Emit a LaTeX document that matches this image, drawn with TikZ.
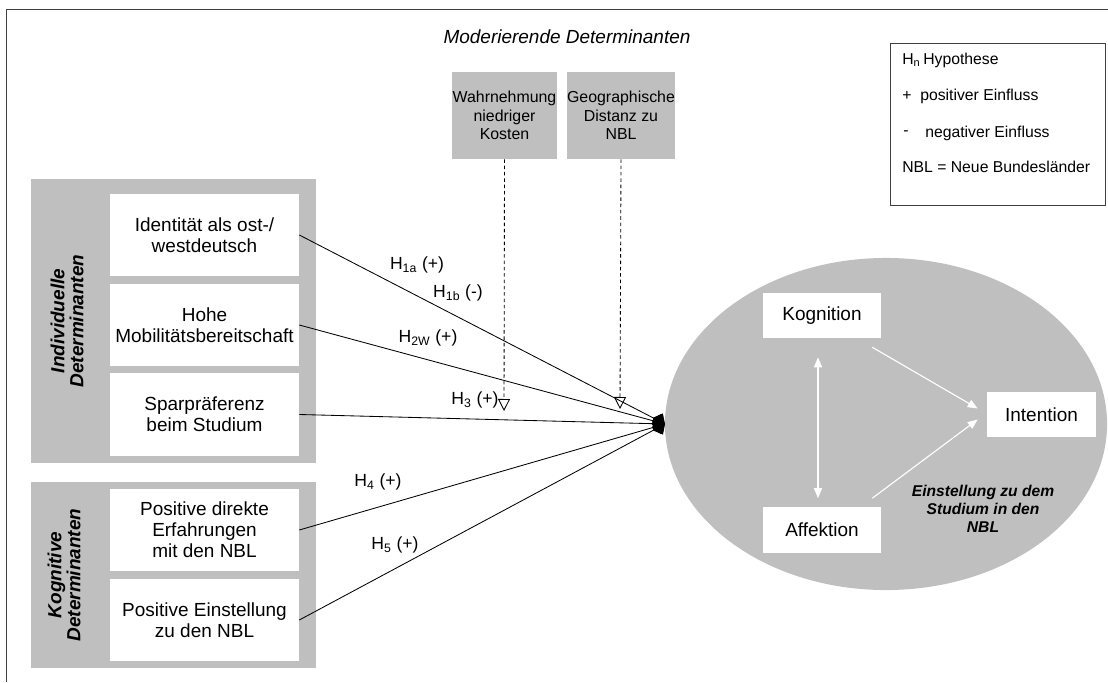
\documentclass[tikz,border=0pt]{standalone}
\usepackage{fontspec}
\setmainfont{Liberation Sans}
\usepackage{tikz}
\usetikzlibrary{positioning,arrows.meta,calc}
\definecolor{boxgray}{HTML}{BFBFBF}
\definecolor{framegray}{HTML}{404040}
\newcommand{\hyp}[2]{H\textsubscript{#1} (#2)}

\begin{document}
\begin{tikzpicture}[x=0.025cm, y=-0.025cm,
    grp/.style={fill=boxgray, inner sep=0pt},
    det/.style={fill=white, minimum width=4.725cm, minimum height=2.05cm,
                inner sep=0pt, align=center, font=\fontsize{13.5}{15}\selectfont},
    mod/.style={fill=boxgray, minimum height=2.175cm, inner sep=0pt,
                align=center, font=\fontsize{11.3}{13}\selectfont},
    att/.style={fill=white, minimum height=1.125cm, inner sep=0pt,
                font=\fontsize{13.5}{15}\selectfont},
    side/.style={rotate=90, align=center, font=\fontsize{13.5}{13.5}\selectfont\bfseries\itshape},
    hyplab/.style={inner sep=0pt, font=\fontsize{12.5}{14}\selectfont},
    leg/.style={anchor=west, inner sep=0pt, font=\fontsize{11.2}{13}\selectfont},
    path/.style={line width=0.6pt, -{Diamond[length=3.4mm, width=4.2mm]}},
    modpath/.style={line width=0.6pt, dash pattern=on 2.5pt off 2pt,
                    -{Triangle[open, length=3mm, width=3mm]}},
    wpath/.style={white, line width=0.8pt},
  ]
  \useasboundingbox (0,0) rectangle (1108,682);

  % frame
  \draw[framegray, line width=0.7pt] (6,682) -- (6,9) -- (1108,9);

  % title and legend
  \node[font=\fontsize{13.5}{15}\selectfont\itshape] (title) at (567,37) {Moderierende Determinanten};
  \node[draw=framegray, line width=0.6pt, minimum width=5.375cm, minimum height=4.05cm] (legend) at (997.5,124) {};
  \node[leg] (lgH) at (902,60) {H\textsubscript{n}};
  \node[leg] (lgHt) at (923,60) {Hypothese};
  \node[leg] (lgP) at (902,96) {+};
  \node[leg] (lgPt) at (920,96) {positiver Einfluss};
  \node[leg] (lgN) at (903,133) {-};
  \node[leg] (lgNt) at (925,133) {negativer Einfluss};
  \node[leg] (lgNBL) at (902,167) {NBL = Neue Bundesländer};

  % moderators
  \node[mod, minimum width=2.625cm] (kosten) at (504.5,115.5) {Wahrnehmung\\niedriger\\Kosten};
  \node[mod, minimum width=2.65cm] (distanz) at (621,115.5) {Geographische\\Distanz zu\\NBL};

  % individual determinants
  \node[grp, minimum width=7.125cm, minimum height=7.1cm] (indiv) at (173.5,321) {};
  \node[side] (indivlab) at (67,321) {Individuelle\\Determinanten};
  \node[det] (ident) at (204.5,235) {Identität als ost-/\\westdeutsch};
  \node[det] (mobil) at (204.5,325) {Hohe\\Mobilitätsbereitschaft};
  \node[det] (spar) at (204.5,414.5) {Sparpräferenz\\beim Studium};

  % cognitive determinants
  \node[grp, minimum width=7.125cm, minimum height=4.65cm] (kogn) at (173.5,575) {};
  \node[side] (kognlab) at (64,575) {Kognitive\\Determinanten};
  \node[det] (erfahr) at (204.5,530) {Positive direkte\\Erfahrungen\\mit den NBL};
  \node[det] (einst) at (204.5,620) {Positive Einstellung\\zu den NBL};

  % attitude
  \fill[boxgray] (886,424) ellipse [x radius=5.525cm, y radius=4.15cm];
  \node[att, minimum width=2.95cm] (kog) at (822,315.5) {Kognition};
  \node[att, minimum width=2.95cm] (aff) at (822,530) {Affektion};
  \node[att, minimum width=2.725cm] (int) at (1041.5,414.5) {Intention};
  \node[align=center, font=\fontsize{11.1}{12.8}\selectfont\bfseries\itshape] (einstlab) at (983,509)
    {Einstellung zu dem\\Studium in den\\NBL};

  \draw[wpath, {Triangle[length=2.5mm, width=2mm]}-{Triangle[length=2.5mm, width=2mm]}]
    ($(kog.south)+(-4,19)$) -- ($(aff.north)+(-4,-9)$);
  \draw[wpath, -{Triangle[length=2.5mm, width=2mm]}] ($(kog.south east)+(-9,9)$) -- ($(int.west)+(-9,-6)$);
  \draw[wpath, -{Triangle[length=2.5mm, width=2mm]}] ($(aff.north east)+(-9,-9)$) -- ($(int.west)+(-9,5)$);

  % hypotheses
  \coordinate (hub) at (665,424);
  \draw[path] (ident.east) -- (hub);
  \draw[path] (mobil.east) -- (hub);
  \draw[path] (spar.east) -- (hub);
  \draw[path] (erfahr.east) -- (hub);
  \draw[path] (einst.east) -- (hub);

  \coordinate (kostenend) at (504,411);
  \coordinate (distanzend) at (620,409);
  \draw[modpath] (kosten.south) -- (kostenend);
  \draw[modpath] (distanz.south) -- (distanzend);

  \node[hyplab] (h1a) at (417,265) {\hyp{1a}{+}};
  \node[hyplab] (h1b) at (458,293) {\hyp{1b}{-}};
  \node[hyplab] (h2w) at (428,338) {\hyp{2W}{+}};
  \node[hyplab] (h3) at (475,400) {\hyp{3}{+}};
  \node[hyplab] (h4) at (378,482) {\hyp{4}{+}};
  \node[hyplab] (h5) at (395,545) {\hyp{5}{+}};
\end{tikzpicture}
\end{document}
